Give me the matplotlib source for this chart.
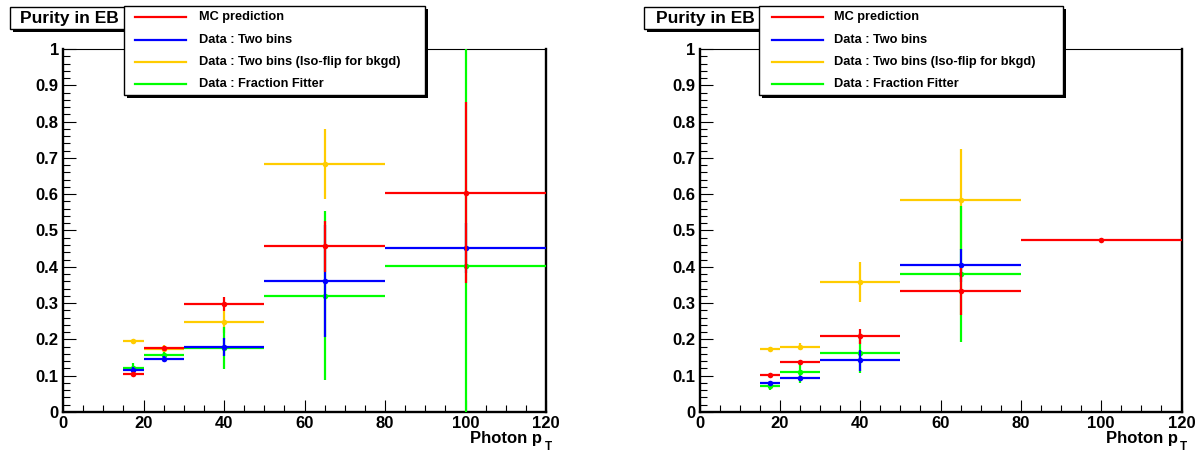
import numpy as np
import matplotlib
matplotlib.use('Agg')
import matplotlib.pyplot as plt
import matplotlib.ticker as mticker
from matplotlib.patches import Rectangle
from matplotlib.lines import Line2D

plt.rcParams['font.family'] = ['Liberation Sans', 'DejaVu Sans']
plt.rcParams['font.weight'] = 'bold'

# photon pT bins
pt_edges = [15, 20, 30, 50, 80, 120]

series_labels = ['MC prediction', 'Data : Two bins',
                 'Data : Two bins (Iso-flip for bkgd)', 'Data : Fraction Fitter']
series_colors = ['#ff0000', '#0000ff', '#ffcc00', '#00ff00']

# left panel
left_mc = [0.104, 0.177, 0.298, 0.456, 0.604]
left_mc_err = [0.005, 0.005, 0.020, 0.070, 0.250]
left_two = [0.117, 0.145, 0.179, 0.360, 0.452]
left_two_err = [0.008, 0.008, 0.024, 0.154, 0.070]
left_iso = [0.196, 0.174, 0.249, 0.683, np.nan]
left_iso_err = [0.006, 0.010, 0.030, 0.097, np.nan]
left_ff = [0.120, 0.158, 0.177, 0.320, 0.403]
left_ff_err = [0.015, 0.008, 0.058, 0.233, 0.620]

# right panel
right_mc = [0.102, 0.139, 0.208, 0.333, 0.474]
right_mc_err = [0.004, 0.005, 0.022, 0.065, 0.004]
right_two = [0.080, 0.093, 0.142, 0.404, np.nan]
right_two_err = [0.006, 0.006, 0.030, 0.045, np.nan]
right_iso = [0.174, 0.180, 0.358, 0.585, np.nan]
right_iso_err = [0.006, 0.010, 0.055, 0.140, np.nan]
right_ff = [0.073, 0.110, 0.163, 0.380, np.nan]
right_ff_err = [0.013, 0.030, 0.055, 0.187, np.nan]

panels = [
    [left_mc, left_mc_err, left_two, left_two_err, left_iso, left_iso_err, left_ff, left_ff_err],
    [right_mc, right_mc_err, right_two, right_two_err, right_iso, right_iso_err, right_ff, right_ff_err],
]

W, H = 1199, 454
fig = plt.figure(figsize=(W / 100, H / 100), dpi=100)


def frac(x0, y0, x1, y1):
    # pixel box (top-left origin) -> figure fraction rect
    return x0 / W, 1 - y1 / H, (x1 - x0) / W, (y1 - y0) / H


def pbox(x0, y0, x1, y1, **kw):
    l, b, w, h = frac(x0, y0, x1, y1)
    fig.add_artist(Rectangle((l, b), w, h, transform=fig.transFigure, **kw))


edges = np.array(pt_edges, dtype=float)
centers = (edges[:-1] + edges[1:]) / 2
halfw = (edges[1:] - edges[:-1]) / 2

# pixel layout per panel
axes_px = [(63, 49, 546, 412), (699.5, 49, 1181.5, 412)]
title_px = [(10, 128), (644, 766)]
legend_px = [(124, 425, 135, 186, 199), (759, 1063, 772, 823, 834)]

for p, data in enumerate(panels):
    ax = fig.add_axes(frac(*axes_px[p]))
    # draw order: iso-flip, fraction fitter, two bins, MC on top
    for i, k in enumerate([2, 3, 1, 0]):
        vals = np.array(data[2 * k])
        errs = np.array(data[2 * k + 1])
        ax.errorbar(centers, vals, xerr=halfw, yerr=errs, fmt='o',
                    color=series_colors[k], ms=4, mew=0, lw=1.6, capsize=0,
                    zorder=3 + i)
    ax.set_xlim(0, 120)
    ax.set_ylim(0, 1)
    ax.xaxis.set_major_locator(mticker.MultipleLocator(20))
    ax.xaxis.set_minor_locator(mticker.MultipleLocator(5))
    ax.yaxis.set_major_locator(mticker.MultipleLocator(0.1))
    ax.yaxis.set_minor_locator(mticker.MultipleLocator(0.02))
    ax.yaxis.set_major_formatter(mticker.FuncFormatter(lambda v, pos: f'{v:g}'))
    ax.tick_params(which='both', direction='in', top=False, right=False,
                   labelsize=12, width=0.8)
    ax.tick_params(which='major', length=9, pad=3)
    ax.tick_params(which='minor', length=5)
    for lab in ax.get_xticklabels() + ax.get_yticklabels():
        lab.set_fontweight('bold')
    for s in ['left', 'bottom', 'right']:
        ax.spines[s].set_linewidth(1.7)
    ax.spines['top'].set_linewidth(0.8)

    # axis title "Photon p_T"
    xr = axes_px[p][2]
    fig.text((xr - 4) / W, 1 - 443 / H, 'Photon p', ha='right', va='baseline',
             fontsize=12, fontweight='bold')
    fig.text((xr + 2) / W, 1 - 441 / H, 'T', ha='center', va='top',
             fontsize=8.5, fontweight='bold')

    # title box with shadow
    tx0, tx1 = title_px[p]
    pbox(tx0 + 3, 10, tx1 + 3, 32, facecolor='black', lw=0)
    pbox(tx0, 7, tx1, 29, facecolor='white', edgecolor='black', lw=1)
    fig.text((tx0 + tx1) / 2 / W, 1 - 18.5 / H, 'Purity in EB', ha='center', va='center',
             fontsize=12.5, fontweight='bold')

    # legend box with shadow
    lx0, lx1, hx0, hx1, txx = legend_px[p]
    pbox(lx0 + 3, 9, lx1 + 3, 98, facecolor='black', lw=0)
    pbox(lx0, 6, lx1, 95, facecolor='white', edgecolor='black', lw=1)
    for i, (lab, col) in enumerate(zip(series_labels, series_colors)):
        yy = 1 - [17, 40, 62, 84][i] / H
        fig.add_artist(Line2D([hx0 / W, hx1 / W], [yy, yy],
                              transform=fig.transFigure, color=col, lw=1.6))
        fig.text(txx / W, yy, lab, ha='left', va='center',
                 fontsize=9.2, fontweight='bold')

fig.savefig('out.png', dpi=100)
